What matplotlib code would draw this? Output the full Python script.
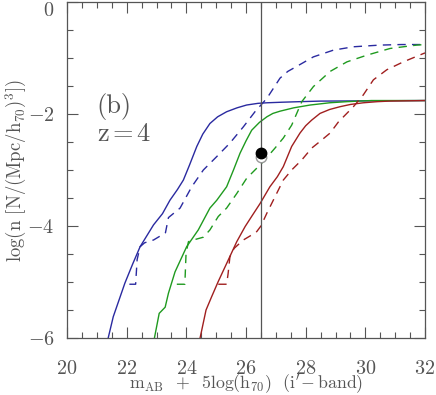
import numpy as np
import matplotlib
matplotlib.use("Agg")
import matplotlib.pyplot as plt
from matplotlib.ticker import MultipleLocator

# solid curves (x = magnitude, y = log n)
blue_x = [21.38, 21.55, 21.94, 22.2, 22.45, 22.9, 23.2, 23.45, 23.7, 23.9, 24.1, 24.35, 24.55, 24.79, 25.05, 25.35,
          25.7, 26.02, 26.4, 26.7, 27.2, 27.8, 28.5, 32.0]
blue_y = [-6.0, -5.62, -5.02, -4.68, -4.37, -3.98, -3.78, -3.54, -3.35, -3.18, -2.92, -2.58, -2.36, -2.17, -2.05, -1.96,
          -1.89, -1.84, -1.81, -1.80, -1.79, -1.78, -1.77, -1.76]

green_x = [22.93, 23.09, 23.29, 23.4, 23.62, 24.01, 24.4, 24.79, 25.02, 25.35, 25.58, 25.8, 26.0, 26.19, 26.45, 26.7,
           26.9, 27.14, 27.6, 28.15, 28.8, 29.38, 30.2, 32.0]
green_y = [-6.0, -5.56, -5.45, -5.2, -4.82, -4.37, -4.07, -3.68, -3.54, -3.30, -3.0, -2.70, -2.48, -2.29, -2.15, -2.05,
           -1.99, -1.95, -1.89, -1.84, -1.80, -1.78, -1.76, -1.76]

red_x = [24.46, 24.66, 24.85, 25.07, 25.35, 25.69, 25.97, 26.2, 26.47, 26.8, 27.05, 27.25, 27.53, 27.81, 28.0, 28.2,
         28.48, 28.8, 29.15, 29.5, 29.93, 30.4, 30.8, 32.0]
red_y = [-6.0, -5.5, -5.26, -4.99, -4.67, -4.28, -4.01, -3.82, -3.6, -3.30, -3.12, -2.94, -2.58, -2.34, -2.21, -2.11,
         -1.99, -1.92, -1.87, -1.83, -1.80, -1.78, -1.77, -1.76]

# dashed curves
blue_d_x = [22.09, 22.3, 22.35, 22.45, 22.6, 22.9, 23.12, 23.3, 23.4, 23.79, 24.18, 24.57, 25.02, 25.46, 25.91, 26.3,
            26.7, 27.14, 27.4, 27.7, 28.26, 28.93, 29.6, 30.49, 31.2, 32.0]
blue_d_y = [-5.04, -5.04, -4.6, -4.37, -4.3, -4.25, -4.18, -4.12, -3.85, -3.68, -3.30, -3.0, -2.76, -2.52, -2.23, -1.96,
            -1.72, -1.36, -1.24, -1.15, -0.98, -0.86, -0.80, -0.77, -0.76, -0.76]

green_d_x = [23.68, 23.95, 23.99, 24.07, 24.3, 24.57, 24.79, 25.07, 25.35, 25.69, 26.02, 26.58, 26.97, 27.25, 27.53,
             27.87, 28.26, 28.82, 29.38, 30.05, 30.83, 31.72, 32.0]
green_d_y = [-5.04, -5.04, -4.49, -4.28, -4.24, -4.2, -4.07, -3.83, -3.68, -3.42, -3.15, -2.85, -2.61, -2.43, -2.2,
             -1.78, -1.51, -1.24, -1.07, -0.95, -0.83, -0.77, -0.76]

red_d_x = [25.07, 25.35, 25.4, 25.46, 25.6, 25.91, 26.13, 26.36, 26.5, 26.7, 26.97, 27.25, 27.53, 27.87, 28.2, 28.48,
           28.82, 29.1, 29.6, 29.93, 30.27, 30.72, 31.27, 31.95, 32.0]
red_d_y = [-5.04, -5.04, -4.85, -4.55, -4.4, -4.25, -4.18, -4.1, -4.0, -3.77, -3.48, -3.18, -3.0, -2.82, -2.61, -2.49,
           -2.34, -2.14, -1.87, -1.66, -1.39, -1.21, -1.07, -0.92, -0.91]

# observed point
obs_x = 26.5
obs_y = -2.70
obs_open_y = -2.76

x_ticks = [20, 22, 24, 26, 28, 30, 32]
y_ticks = [0, -2, -4, -6]
y_ticklabels = ['$0$', '$-2$', '$-4$', '$-6$']

gray = '#555555'
c_blue = '#2a2aa0'
c_green = '#1f9a1f'
c_red = '#a01f1f'

plt.rcParams['font.family'] = ['cmr10']
plt.rcParams['mathtext.fontset'] = 'cm'
plt.rcParams['axes.unicode_minus'] = False

fig = plt.figure(figsize=(4.36, 3.95), dpi=100)
ax = fig.add_axes([0.1537, 0.1443, 0.8211, 0.8507])

dash = (0, (6, 4.5))
ax.plot(blue_x, blue_y, color=c_blue, lw=1.0)
ax.plot(green_x, green_y, color=c_green, lw=1.0)
ax.plot(red_x, red_y, color=c_red, lw=1.0)
ax.plot(blue_d_x, blue_d_y, color=c_blue, lw=1.0, linestyle=dash)
ax.plot(green_d_x, green_d_y, color=c_green, lw=1.0, linestyle=dash)
ax.plot(red_d_x, red_d_y, color=c_red, lw=1.0, linestyle=dash)

ax.axvline(obs_x, color=gray, lw=0.9)
ax.plot([obs_x], [obs_open_y], 'o', ms=7.5, mfc='white', mec='#999999', mew=1.0)
ax.plot([obs_x], [obs_y], 'o', ms=7.5, color='black')

ax.set_xlim(20, 32)
ax.set_ylim(-6, 0)
ax.set_xticks(x_ticks)
ax.set_xticklabels(['$%d$' % t for t in x_ticks])
ax.set_yticks(y_ticks)
ax.set_yticklabels(y_ticklabels)
ax.get_yticklabels()[0].set_va('top')
ax.xaxis.set_minor_locator(MultipleLocator(0.5))
ax.yaxis.set_minor_locator(MultipleLocator(0.5))
ax.tick_params(which='both', direction='in', top=True, right=True, color=gray, labelcolor=gray,
               labelsize=14.5, width=0.8)
ax.tick_params(which='major', length=8)
ax.tick_params(axis='x', which='major', pad=15.5)
ax.tick_params(axis='y', which='major', pad=9)
ax.tick_params(which='minor', length=4)
for s in ax.spines.values():
    s.set_color(gray)
    s.set_linewidth(0.9)

ax.text(21.0, -1.875, '(b)', fontsize=19, color=gray, va='center')
ax.text(21.0, -2.36, 'z$\\,$=$\\,$4', fontsize=19, color=gray, va='center')

ax.set_xlabel("m$_{\\rm AB}$  +  5log(h$_{70}$)  (i$'\\!-$band)", fontsize=12.8, color=gray, va='baseline')
ax.xaxis.set_label_coords(0.5, -0.152)
ax.set_ylabel("log(n [N/(Mpc/h$_{70}$)$^3$])", fontsize=13.5, color=gray, va='center')
ax.yaxis.set_label_coords(-0.142, 0.5)

fig.savefig('out.png', dpi=100)
